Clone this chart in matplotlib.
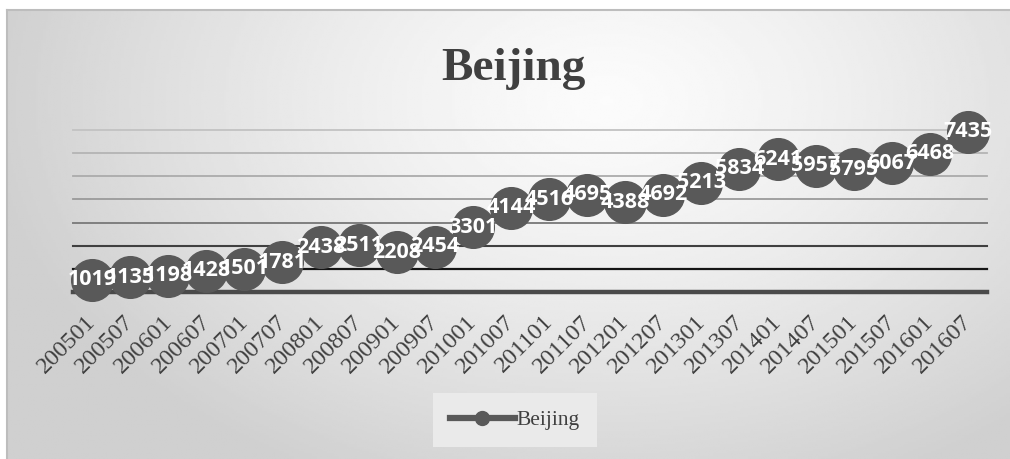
import matplotlib.pyplot as plt
import numpy as np
from matplotlib.lines import Line2D
from matplotlib.transforms import ScaledTranslation

# data
periods = ['200501', '200507', '200601', '200607', '200701', '200707',
           '200801', '200807', '200901', '200907', '201001', '201007',
           '201101', '201107', '201201', '201207', '201301', '201307',
           '201401', '201407', '201501', '201507', '201601', '201607']
beijing = [1019, 1135, 1198, 1428, 1501, 1781, 2438, 2511, 2208, 2454,
           3301, 4144, 4516, 4695, 4388, 4692, 5213, 5834, 6241, 5957,
           5795, 6067, 6468, 7435]

W, H = 1010, 459
fig = plt.figure(figsize=(W / 100, H / 100), dpi=100)
fig.patch.set_facecolor('white')

# radial gradient background of the chart area
bg = fig.add_axes([7 / W, 0, (W - 7) / W, (H - 10) / H])
gx, gy = np.meshgrid(np.linspace(0, W - 7, 400), np.linspace(0, H - 10, 200))
r = np.sqrt(((gx - 600) / 620) ** 2 + ((gy - 90) / 420) ** 2)
r = np.clip(r, 0, 1)
shade = 0.985 - 0.17 * r ** 1.3
bg.imshow(shade, cmap='gray', vmin=0, vmax=1, aspect='auto', extent=[0, 1, 0, 1], origin='upper')
bg.set_xticks([])
bg.set_yticks([])
for side in ['left', 'top']:
    bg.spines[side].set_color('#bdbdbd')
    bg.spines[side].set_linewidth(1.5)
for side in ['right', 'bottom']:
    bg.spines[side].set_visible(False)

ax = fig.add_axes([73 / W, 1 - 292 / H, 914 / W, 162 / H])
ax.patch.set_alpha(0)
for s in ax.spines.values():
    s.set_visible(False)

# horizontal rules, lighter at the top and darker near the axis
levels = [7500, 6500, 5500, 4500, 3500, 2500, 1500, 500]
rule_colors = ['#c2c2c2', '#b4b4b4', '#ababab', '#9a9a9a', '#7f7f7f', '#404040', '#151515', '#4a4a4a']
rule_widths = [1.3, 1.3, 1.3, 1.3, 1.4, 1.5, 1.6, 3.2]
for lv, c, w in zip(levels, rule_colors, rule_widths):
    ax.axhline(lv, color=c, lw=w, zorder=1, clip_on=False)

x = np.arange(len(periods))
ax.plot(x, beijing, '-o', color='#595959', lw=4.5, ms=30, zorder=3, clip_on=False)
for xi, v in zip(x, beijing):
    ax.annotate(str(v), (xi, v), ha='center', va='center', color='white',
                fontsize=15.5, fontweight='bold', family='Open Sans', zorder=4,
                annotation_clip=False)

ax.set_xlim(-0.5, len(periods) - 0.5)
ax.set_ylim(500, 7500)
ax.set_yticks([])
ax.set_xticks(x)
ax.set_xticklabels(periods, rotation=45, ha='right', fontsize=17.5,
                   family='Liberation Serif', color='#404040')
ax.tick_params(axis='x', length=0, pad=14)
shift = ScaledTranslation(8 / 100, 0, fig.dpi_scale_trans)
for lab in ax.get_xticklabels():
    lab.set_transform(lab.get_transform() + shift)

fig.text(0.508, 1 - 80 / H, 'Beijing', fontsize=34, fontweight='bold',
         family='Liberation Serif', color='#404040', ha='center', va='baseline')

handle = Line2D([], [], color='#595959', lw=4.5, marker='o', ms=10)
leg = fig.legend([handle], ['Beijing'], loc='center', bbox_to_anchor=(515 / W, 1 - 420 / H),
                 frameon=True, facecolor='#eaeaea', edgecolor='none', framealpha=1,
                 fancybox=False, handlelength=3.0, handletextpad=0.1,
                 borderpad=0.8, prop={'family': 'Liberation Serif', 'size': 15.5})
for t in leg.get_texts():
    t.set_color('#404040')

fig.savefig('out.png', dpi=100)
